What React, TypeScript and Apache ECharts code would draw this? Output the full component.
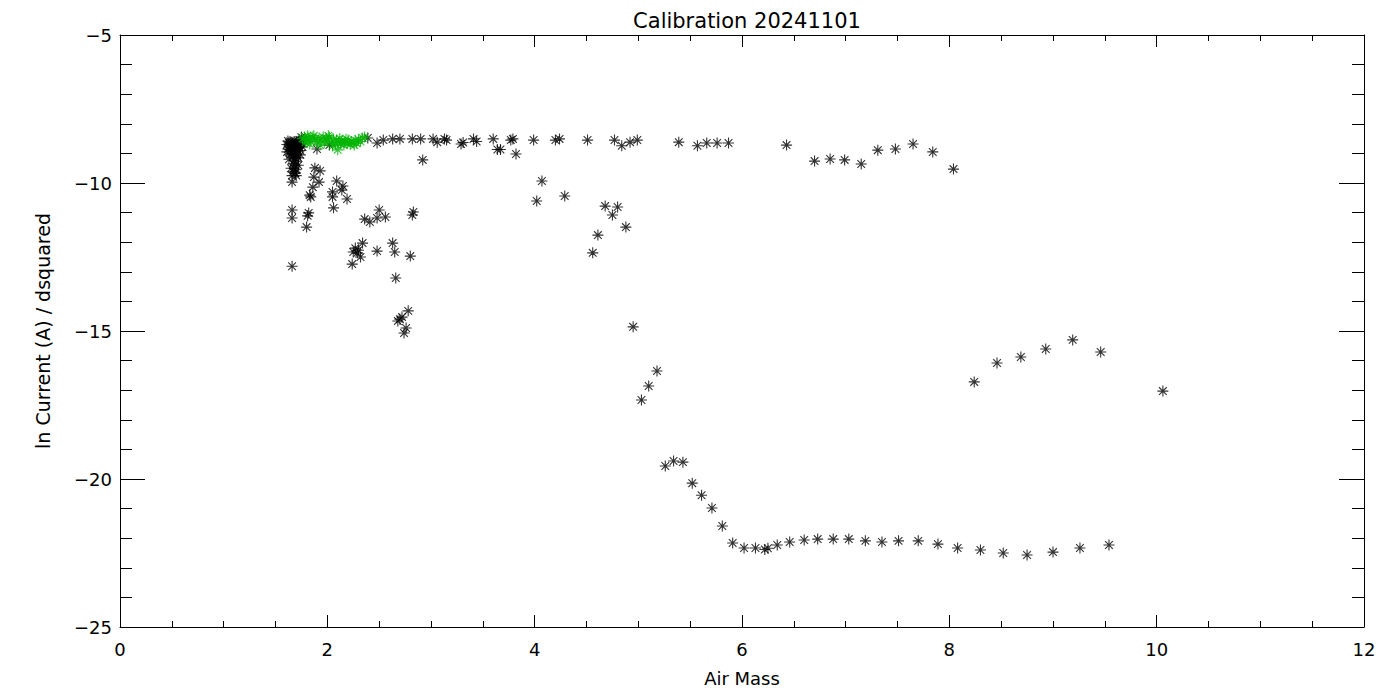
import React, { useEffect, useRef } from "react";
import * as echarts from "echarts";

const titleText = "Calibration 20241101";
const xName = "Air Mass";
const yName = "ln Current (A) / dsquared";

// black points: dense cluster at low air mass
const clusterPoints: number[][] = [
  [1.64, -8.6], [1.66, -8.62], [1.68, -8.6], [1.7, -8.62], [1.72, -8.6], [1.65, -8.7], [1.67, -8.72],
  [1.69, -8.7], [1.71, -8.72], [1.73, -8.68], [1.64, -8.8], [1.66, -8.82], [1.68, -8.8], [1.7, -8.84],
  [1.72, -8.78], [1.65, -8.9], [1.67, -8.92], [1.69, -8.95], [1.71, -8.9], [1.66, -9.0], [1.68, -9.05],
  [1.7, -9.02], [1.67, -9.12], [1.69, -9.15], [1.68, -9.25], [1.7, -9.28], [1.67, -9.35], [1.69, -9.4],
  [1.68, -9.5], [1.7, -9.55], [1.67, -9.62], [1.69, -9.66], [1.66, -9.75], [1.66, -9.97], [1.75, -8.45],
  [1.73, -8.55], [1.63, -8.65], [1.63, -8.75], [1.9, -8.85], [2.02, -8.72], [1.62, -8.58], [1.61, -8.7],
  [1.62, -8.85], [1.61, -8.95], [1.75, -8.65], [1.76, -8.78], [1.74, -8.9], [1.74, -9.05], [1.72, -9.15],
  [1.64, -9.05], [1.63, -9.2], [1.72, -9.4], [1.7, -9.75], [1.65, -9.5], [1.77, -8.55],
];

// black points: upper flat band
const flatBandPoints: number[][] = [
  [2.39, -8.48], [2.48, -8.65], [2.54, -8.55], [2.63, -8.51], [2.7, -8.51], [2.82, -8.51], [2.9, -8.51],
  [3.02, -8.51], [3.06, -8.62], [3.13, -8.51], [3.15, -8.55], [3.29, -8.68], [3.31, -8.63], [3.41, -8.51],
  [3.44, -8.6], [3.6, -8.51], [3.64, -8.87], [3.67, -8.87], [3.77, -8.55], [3.79, -8.51], [3.82, -9.02],
  [3.99, -8.55], [4.2, -8.55], [4.24, -8.51], [4.51, -8.55], [4.77, -8.55], [4.84, -8.74], [4.92, -8.62],
  [4.99, -8.55], [5.39, -8.62], [5.57, -8.74], [5.66, -8.65], [5.76, -8.65], [5.87, -8.65], [6.43, -8.72],
  [6.7, -9.26], [6.85, -9.19], [6.99, -9.22], [7.15, -9.36], [7.31, -8.89], [7.48, -8.85], [7.65, -8.68],
  [7.84, -8.95], [8.04, -9.53], [2.92, -9.22],
];

// black points: scattered below the cluster
const scatterLowPoints: number[][] = [
  [1.69, -9.66], [1.88, -9.49], [1.93, -9.59], [1.87, -9.8], [1.92, -9.97], [1.86, -10.14], [1.83, -10.41],
  [2.09, -9.93], [2.15, -10.1], [2.14, -10.24], [2.05, -10.3], [2.05, -10.47], [2.19, -10.54], [1.84, -10.47],
  [2.06, -10.84], [1.66, -10.91], [1.66, -11.18], [1.82, -11.01], [1.81, -11.11], [1.8, -11.49], [2.36, -11.22],
  [2.41, -11.32], [2.5, -10.91], [2.48, -11.18], [2.56, -11.15], [2.83, -10.98], [2.82, -11.08], [2.34, -12.03],
  [2.27, -12.2], [2.29, -12.36], [2.32, -12.5], [2.25, -12.33], [2.3, -12.27], [2.48, -12.3], [2.63, -12.03],
  [2.65, -12.33], [2.8, -12.47], [2.24, -12.74], [1.66, -12.81], [2.66, -13.21], [2.78, -14.32], [2.72, -14.53],
  [2.68, -14.66], [2.7, -14.6], [2.76, -14.9], [2.74, -15.07],
];

// black points: middle drop
const dropPoints: number[][] = [
  [4.02, -10.61], [4.07, -9.93], [4.29, -10.44], [4.68, -10.78], [4.8, -10.81], [4.75, -11.08], [4.88, -11.49],
  [4.61, -11.76], [4.56, -12.36], [4.95, -14.86], [5.18, -16.35], [5.1, -16.86], [5.03, -17.33],
];

// black points: low branch
const lowBranchPoints: number[][] = [
  [5.26, -19.56], [5.34, -19.39], [5.43, -19.43], [5.52, -20.14], [5.61, -20.55], [5.71, -20.98], [5.81, -21.59],
  [5.91, -22.16], [6.02, -22.33], [6.13, -22.33], [6.22, -22.38], [6.25, -22.34], [6.34, -22.23], [6.46, -22.13],
  [6.6, -22.06], [6.73, -22.03], [6.88, -22.03], [7.03, -22.03], [7.19, -22.09], [7.35, -22.13], [7.51, -22.09],
  [7.7, -22.09], [7.89, -22.2], [8.08, -22.33], [8.3, -22.4], [8.52, -22.5], [8.75, -22.57], [9.0, -22.47],
  [9.26, -22.33], [9.54, -22.23],
];

// black points: upper right group
const upperRightPoints: number[][] = [
  [8.24, -16.72], [8.46, -16.08], [8.69, -15.88], [8.93, -15.61], [9.19, -15.3], [9.46, -15.71], [10.06, -17.03],
];

// green points
const greenPoints: number[][] = [
  [1.76, -8.5], [1.78, -8.45], [1.8, -8.55], [1.82, -8.48], [1.84, -8.6], [1.86, -8.45], [1.88, -8.52],
  [1.9, -8.62], [1.92, -8.48], [1.94, -8.55], [1.96, -8.45], [1.97, -8.65], [1.99, -8.5], [2.0, -8.58],
  [2.02, -8.45], [2.04, -8.62], [2.06, -8.52], [2.08, -8.7], [2.09, -8.55], [2.11, -8.62], [2.13, -8.68],
  [2.14, -8.58], [2.16, -8.72], [2.17, -8.62], [2.19, -8.66], [2.2, -8.55], [2.22, -8.7], [2.23, -8.6],
  [2.25, -8.64], [2.27, -8.56], [2.28, -8.66], [2.3, -8.52], [2.32, -8.6], [2.34, -8.48], [2.36, -8.45],
  [1.83, -8.68], [1.79, -8.62], [1.93, -8.72], [2.05, -8.75], [2.12, -8.5], [1.87, -8.4], [2.01, -8.4],
  [2.18, -8.52], [2.26, -8.72], [1.81, -8.4], [2.1, -8.88],
];

const xTicks = { min: 0, max: 12, interval: 2 };
const yTicks = { min: -25, max: -5, interval: 5 };

const FONT = "'DejaVu Sans', sans-serif";
const ASTERISK = "path://M5 0 L5 10 M0 5 L10 5 M1.5 1.5 L8.5 8.5 M1.5 8.5 L8.5 1.5";

const fmt = (v: number) => (v < 0 ? "\u2212" + Math.abs(v) : String(v));

export default function App() {
  const ref = useRef<HTMLDivElement>(null);
  useEffect(() => {
    if (!ref.current) return;
    const chart = echarts.init(ref.current, null, { renderer: "svg" });
    const lineStyle = { color: "#000", width: 1 };
    const xBase = (pos: "bottom" | "top", labels: boolean) => ({
      type: "value",
      position: pos,
      ...xTicks,
      axisLine: { show: true, onZero: false, lineStyle },
      axisTick: { show: true, inside: true, length: 12, lineStyle },
      minorTick: { show: true, splitNumber: 4, length: 6, lineStyle },
      splitLine: { show: false },
      axisLabel: { show: labels, color: "#000", fontSize: 18, margin: 13, fontFamily: FONT, formatter: fmt },
      ...(labels
        ? {
            name: xName,
            nameLocation: "middle",
            nameGap: 42,
            nameTextStyle: { color: "#000", fontSize: 18, fontFamily: FONT },
          }
        : {}),
    });
    const yBase = (pos: "left" | "right", labels: boolean) => ({
      type: "value",
      position: pos,
      ...yTicks,
      axisLine: { show: true, onZero: false, lineStyle },
      axisTick: { show: true, inside: true, length: 25, lineStyle },
      minorTick: { show: true, splitNumber: 5, length: 12, lineStyle },
      splitLine: { show: false },
      axisLabel: { show: labels, color: "#000", fontSize: 18, margin: 8, fontFamily: FONT, formatter: fmt },
      ...(labels
        ? {
            name: yName,
            nameLocation: "middle",
            nameGap: 68,
            nameRotate: 90,
            nameTextStyle: { color: "#000", fontSize: 19, fontFamily: FONT },
          }
        : {}),
    });
    const black = [
      ...clusterPoints,
      ...flatBandPoints,
      ...scatterLowPoints,
      ...dropPoints,
      ...lowBranchPoints,
      ...upperRightPoints,
    ];
    chart.setOption({
      animation: false,
      backgroundColor: "#fff",
      title: {
        text: titleText,
        left: 742,
        top: 5,
        textAlign: "center",
        textStyle: { color: "#000", fontSize: 21, fontWeight: "normal", fontFamily: FONT },
      },
      grid: { left: 120, right: 36, top: 35, bottom: 73 },
      xAxis: [xBase("bottom", true), xBase("top", false)],
      yAxis: [yBase("left", true), yBase("right", false)],
      series: [
        {
          type: "scatter",
          data: black,
          symbol: ASTERISK,
          symbolSize: 11,
          itemStyle: { color: "#000", borderColor: "#000", borderWidth: 1.1 },
        },
        {
          type: "scatter",
          data: greenPoints,
          symbol: ASTERISK,
          symbolSize: 11,
          itemStyle: { color: "#00b400", borderColor: "#00b400", borderWidth: 1.1 },
        },
      ],
    });
    return () => chart.dispose();
  }, []);
  return (
    <div
      ref={ref}
      style={{ position: "fixed", left: 0, top: 0, width: 1400, height: 700, background: "#fff" }}
    />
  );
}
